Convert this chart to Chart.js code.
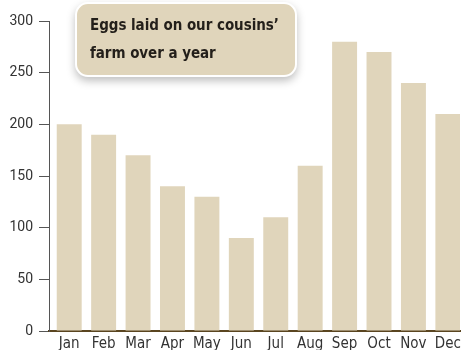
<!DOCTYPE html>
<html>
<head>
<meta charset="utf-8">
<script src="https://cdn.jsdelivr.net/npm/chart.js@4"></script>
<style>
  body { margin: 0; background: #fff; }
  #wrap { position: relative; width: 462px; height: 350px; overflow: hidden; }
  #blob { position: absolute; left: 450px; top: -90px; width: 110px; height: 110px; border-radius: 50%; background: #f6f0d2; }
  #title {
    position: absolute; left: 75px; top: 2px; width: 222px; height: 75px;
    background: #e0d5bb; border: 2px solid #fff; border-radius: 13px;
    box-shadow: 0 4px 8px rgba(0,0,0,0.25);
    font-family: "DejaVu Sans Condensed", "DejaVu Sans", sans-serif; font-weight: bold;
    font-size: 15px; letter-spacing: -0.05px; color: #231f1a; line-height: 28px;
    padding: 7px 0 0 13px; box-sizing: border-box; white-space: nowrap;
  }
</style>
</head>
<body>
<div id="wrap">
  <div id="blob"></div>
  <canvas id="myChart" width="462" height="350"></canvas>
  <div id="title">Eggs laid on our cousins’<br>farm over a year</div>
</div>
<script>
const months = ["Jan", "Feb", "Mar", "Apr", "May", "Jun", "Jul", "Aug", "Sep", "Oct", "Nov", "Dec"]
const eggs = [200, 190, 170, 140, 130, 90, 110, 160, 280, 270, 240, 210]
const yTicks = [0, 50, 100, 150, 200, 250, 300]

let ctx = document.getElementById("myChart").getContext('2d')

// bars start a little right of the y axis and run past the right edge
const nudgeX = {
	id: 'nudgeX',
	afterLayout(chart) {
		const x = chart.scales.x
		x._startPixel = x.left + 3
		x._endPixel = x.right + 5
		x._length = x._endPixel - x._startPixel
	}
}

let chart1 = new Chart(ctx, {
	type: "bar",
	data: {
		labels: months,
		datasets: [{
			data: eggs,
			backgroundColor: "#e0d5bb",
			borderWidth: 0,
			barPercentage: 0.725,
			categoryPercentage: 1
		}]
	},
	options: {
		responsive: false,
		animation: false,
		layout: { padding: { top: 21, right: 0, bottom: -8, left: 0 } },
		plugins: {
			legend: { display: false },
			tooltip: { enabled: false }
		},
		scales: {
			x: {
				grid: { display: false, drawTicks: false },
				border: { color: "#5a4520", width: 2 },
				ticks: {
					padding: 6,
					color: "#333",
					font: { family: "DejaVu Sans Condensed", size: 15, lineHeight: 1 }
				}
			},
			y: {
				min: 0,
				max: 300,
				afterBuildTicks: (scale) => { scale.ticks = yTicks.map(v => ({ value: v })) },
				afterFit: (scale) => { scale.width = 49 },
				grid: { drawOnChartArea: false, drawTicks: true, tickLength: 10, color: "#555" },
				border: { color: "#555", width: 1 },
				ticks: {
					padding: 6,
					color: "#333",
					font: { family: "Roboto", size: 14 }
				}
			}
		}
	},
	plugins: [nudgeX]
})
</script>
</body>
</html>
